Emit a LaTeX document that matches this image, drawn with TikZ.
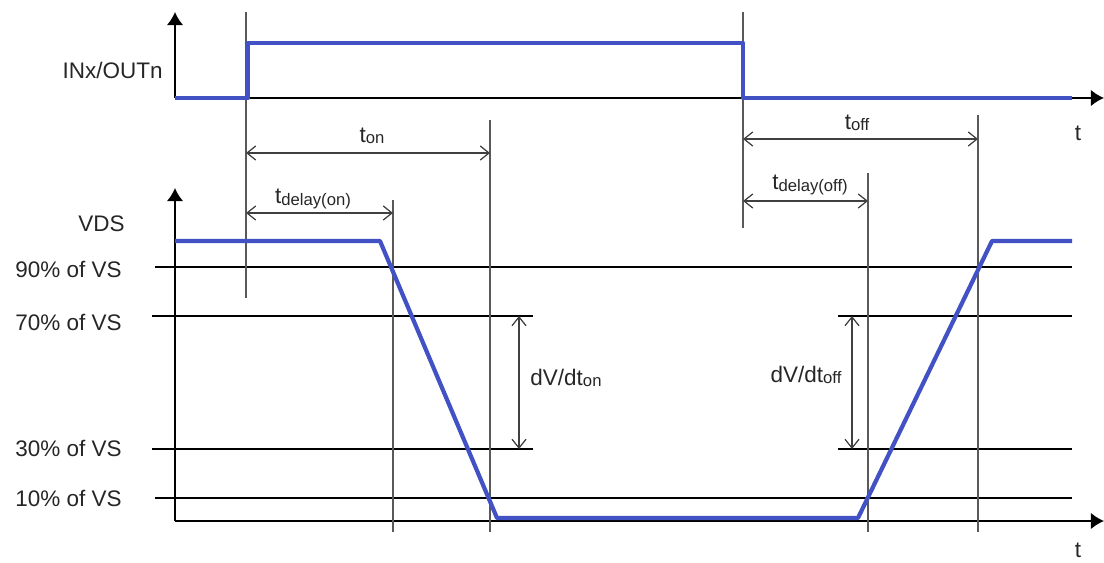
\documentclass[tikz,border=0pt]{standalone}
\usepackage{fontspec}
\setmainfont{Liberation Sans}
\usepackage{xcolor}
\usetikzlibrary{arrows.meta}
\definecolor{sigblue}{RGB}{66,82,196}
\newcommand{\tsub}[2]{#1{\fontsize{9.5}{10}\selectfont\raisebox{-0.15ex}{#2}}}

\begin{document}
\begin{tikzpicture}[
    x=0.02cm, y=-0.02cm,
    axis/.style={-{Latex[length=7.5pt,width=9.5pt]}, line width=1.1pt},
    signal/.style={sigblue, line width=2.4pt, line join=round},
    marker/.style={draw=black!65, line width=0.7pt},
    level/.style={draw=black, line width=0.7pt},
    dimen/.style={{Straight Barb[length=5pt,width=8pt]}-{Straight Barb[length=5pt,width=8pt]}, line width=0.7pt, black!75},
    lbl/.style={font=\fontsize{12.8}{15}\selectfont, text=black!85, inner sep=0pt}
]
\useasboundingbox (0,0) rectangle (1104,563);

% axes
\coordinate (o1) at (175,98);
\coordinate (o2) at (175,521);
\draw[axis] (o1) -- (175,12);
\draw[axis] (o1) -- (1104,98);
\draw[axis] (o2) -- (175,188);
\draw[axis] (o2) -- (1104,521);

% threshold levels
\draw[level] (155,267) -- (1072,267);
\draw[level] (152,316) -- (533,316);
\draw[level] (838,316) -- (1072,316);
\draw[level] (152,449) -- (533,449);
\draw[level] (838,449) -- (1072,449);
\draw[level] (155,498) -- (1072,498);

% time markers
\draw[marker] (246,12) -- (246,298);
\draw[marker] (743,12) -- (743,228);
\draw[marker] (393,200) -- (393,532);
\draw[marker] (490,120) -- (490,532);
\draw[marker] (868,173) -- (868,532);
\draw[marker] (978,115) -- (978,532);

% signals
\draw[signal] (175,98) -- (248,98) -- (248,43) -- (743,43) -- (743,98) -- (1072,98);
\draw[signal] (175,241) -- (380,241) -- (497,518) -- (858,518) -- (992,241) -- (1072,241);

% dimensions
\coordinate (ton-a) at (246,153);  \coordinate (ton-b) at (490,153);
\coordinate (tdon-a) at (246,213); \coordinate (tdon-b) at (393,213);
\coordinate (toff-a) at (743,139); \coordinate (toff-b) at (978,139);
\coordinate (tdoff-a) at (743,201); \coordinate (tdoff-b) at (868,201);
\coordinate (dvon-a) at (519,316); \coordinate (dvon-b) at (519,449);
\coordinate (dvoff-a) at (852,316); \coordinate (dvoff-b) at (852,449);
\draw[dimen] (ton-a) -- (ton-b);
\draw[dimen] (tdon-a) -- (tdon-b);
\draw[dimen] (toff-a) -- (toff-b);
\draw[dimen] (tdoff-a) -- (tdoff-b);
\draw[dimen] (dvon-a) -- (dvon-b);
\draw[dimen] (dvoff-a) -- (dvoff-b);

% labels
\node[lbl, anchor=east] (inout) at (163,70) {INx/OUTn};
\node[lbl, anchor=east] (vds) at (125,224) {VDS};
\node[lbl, anchor=east] (p90) at (122,269) {90\% of VS};
\node[lbl, anchor=east] (p70) at (122,322) {70\% of VS};
\node[lbl, anchor=east] (p30) at (122,448) {30\% of VS};
\node[lbl, anchor=east] (p10) at (122,498) {10\% of VS};
\node[lbl] (t1) at (1078,133) {t};
\node[lbl, anchor=south] (t2) at (1078,558) {t};

\node[lbl] (ton) at (372,136) {\tsub{t}{on}};
\node[lbl] (tdon) at (313,199) {\tsub{t}{delay(on)}};
\node[lbl] (toff) at (857,123) {\tsub{t}{off}};
\node[lbl] (tdoff) at (810,185) {\tsub{t}{delay(off)}};
\node[lbl] (dvon) at (566,378) {\tsub{dV/dt}{on}};
\node[lbl] (dvoff) at (806,375) {\tsub{dV/dt}{off}};

\end{tikzpicture}
\end{document}
